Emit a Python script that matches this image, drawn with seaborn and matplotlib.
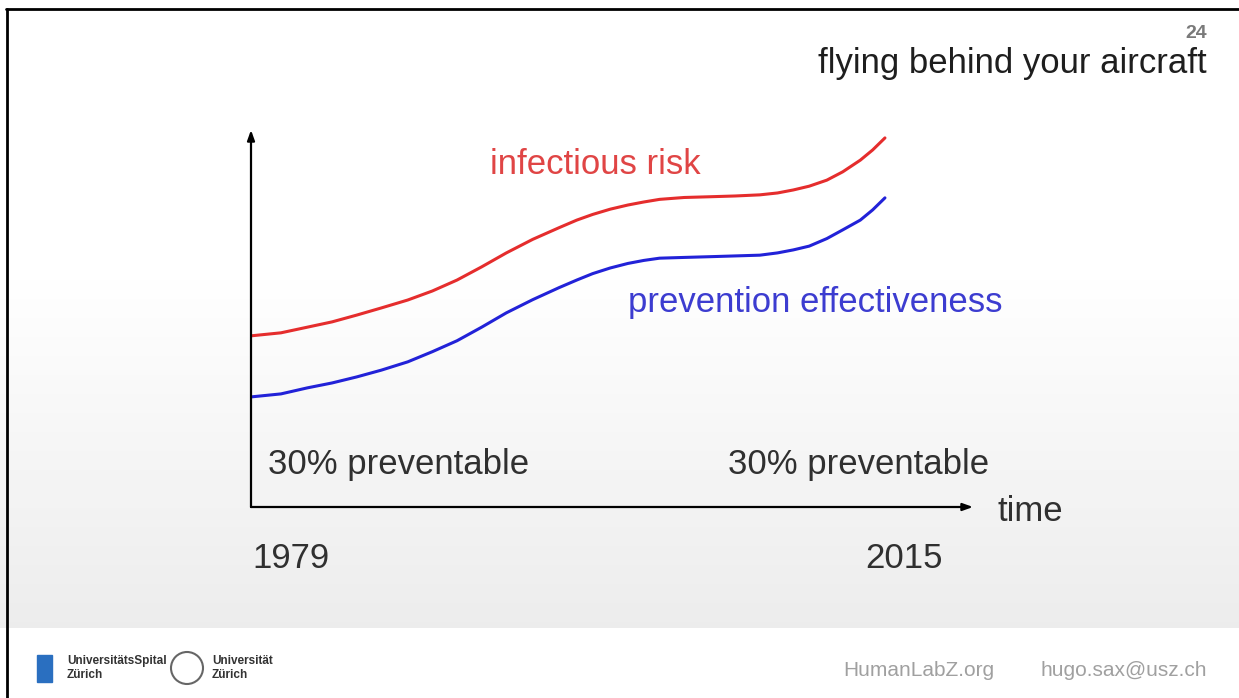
import numpy as np
import pandas as pd
import matplotlib.pyplot as plt
import seaborn as sns
from matplotlib.lines import Line2D
from matplotlib.patches import Rectangle, Ellipse

# data (years on x, arbitrary level 0-100 on y)
years = [1979.0, 1980.7, 1982.2, 1983.6, 1985.0, 1986.4, 1987.9, 1989.3,
         1990.7, 1992.1, 1993.5, 1995.0, 1996.5, 1997.5, 1998.4, 1999.4,
         2000.4, 2001.3, 2002.2, 2003.6, 2005.1, 2006.5, 2007.9, 2008.9,
         2009.8, 2010.7, 2011.7, 2012.6, 2013.6, 2014.3, 2015.0]
risk = [45.4, 46.2, 47.7, 49.1, 50.9, 52.8, 54.9, 57.3,
        60.2, 63.7, 67.4, 71.0, 74.1, 76.1, 77.6, 79.0,
        80.1, 80.9, 81.6, 82.1, 82.3, 82.5, 82.8, 83.3,
        84.1, 85.1, 86.7, 88.9, 92.0, 94.7, 97.9]
prevention = [29.2, 30.0, 31.6, 32.9, 34.5, 36.3, 38.5, 41.2,
              44.1, 47.7, 51.5, 55.0, 58.2, 60.2, 61.9, 63.4,
              64.6, 65.4, 66.0, 66.2, 66.4, 66.6, 66.8, 67.4,
              68.2, 69.2, 71.2, 73.5, 76.1, 78.8, 82.0]
series_names = ["infectious risk", "prevention effectiveness"]
year_labels = ["1979", "2015"]

df = pd.DataFrame({
    "year": years * 2,
    "level": risk + prevention,
    "series": [series_names[0]] * len(years) + [series_names[1]] * len(years),
})

sns.set_theme(style="white")
plt.rcParams["font.family"] = ["Liberation Sans", "DejaVu Sans"]

W, H = 1239, 698
fig = plt.figure(figsize=(W / 100, H / 100), dpi=100)

# slide background with soft grey gradient
bg = fig.add_axes([0, 0, 1, 1], zorder=0)
rows = np.arange(H)
shade = np.where(rows < 260, 1.0, 1.0 - 0.075 * np.clip((rows - 260) / 365, 0, 1))
shade[628:] = 1.0
bg.imshow(np.repeat(shade[:, None], 2, axis=1), cmap="gray", vmin=0, vmax=1,
          aspect="auto", extent=[0, 1, 0, 1])
bg.set_axis_off()

# slide frame (top and left edges)
fig.add_artist(Line2D([6 / W, 1], [1 - 9 / H, 1 - 9 / H], color="black", lw=2))
fig.add_artist(Line2D([7 / W, 7 / W], [0, 1 - 9 / H], color="black", lw=2))

# main chart
ax = fig.add_axes([251 / W, 1 - 507 / H, 722 / W, 377 / H], zorder=2)
ax.patch.set_alpha(0)
sns.lineplot(data=df, x="year", y="level", hue="series",
             palette={series_names[0]: "#e52d2d", series_names[1]: "#2222d8"},
             linewidth=2.2, legend=False, ax=ax, solid_joinstyle="round",
             solid_capstyle="round")
ax.set_xlim(1979, 2020.0)
ax.set_ylim(0, 100)
for s in ax.spines.values():
    s.set_visible(False)
ax.set_xticks([])
ax.set_yticks([])
ax.set_xlabel("")
ax.set_ylabel("")
arrow = dict(arrowstyle="-|>,head_length=0.5,head_width=0.18", color="black", lw=1.6,
             shrinkA=0, shrinkB=0)
ax.annotate("", xy=(1, 0), xytext=(0, 0), xycoords="axes fraction", arrowprops=arrow)
ax.annotate("", xy=(0, 1), xytext=(0, 0), xycoords="axes fraction", arrowprops=arrow)

fs = 25
ink = "#303030"
fig.text(268 / W, 1 - 474 / H, "30% preventable", fontsize=fs, color=ink, va="baseline")
fig.text(728 / W, 1 - 474 / H, "30% preventable", fontsize=fs, color=ink, va="baseline")
fig.text(490 / W, 1 - 174 / H, series_names[0], fontsize=fs, color="#e04545", va="baseline")
fig.text(628 / W, 1 - 312 / H, series_names[1], fontsize=fs, color="#3c3cd0", va="baseline")
fig.text(997 / W, 1 - 521 / H, "time", fontsize=fs, color=ink, va="baseline")
fig.text(252 / W, 1 - 568 / H, year_labels[0], fontsize=fs, color=ink, va="baseline")
fig.text(865 / W, 1 - 568 / H, year_labels[1], fontsize=fs, color=ink, va="baseline")
fig.text(1207 / W, 1 - 73 / H, "flying behind your aircraft", fontsize=fs,
         color="#1e1e1e", ha="right", va="baseline")
fig.text(1207 / W, 1 - 38 / H, "24", fontsize=14, fontweight="bold",
         color="#7a7a7a", ha="right", va="baseline")

# footer
fig.add_artist(Rectangle((37 / W, 1 - 682 / H), 15 / W, 27 / H, color="#2a6fc0"))
fig.text(67 / W, 1 - 664 / H, "UniversitätsSpital", fontsize=8.5, fontweight="bold",
         color="#333333", va="baseline")
fig.text(67 / W, 1 - 678 / H, "Zürich", fontsize=8.5, fontweight="bold",
         color="#333333", va="baseline")
fig.add_artist(Ellipse((187 / W, 1 - 668 / H), 32 / W, 32 / H, fill=False, ec="#666666",
                       lw=1.5, transform=fig.transFigure))
fig.text(212 / W, 1 - 664 / H, "Universität", fontsize=8.5, fontweight="bold",
         color="#333333", va="baseline")
fig.text(212 / W, 1 - 678 / H, "Zürich", fontsize=8.5, fontweight="bold",
         color="#333333", va="baseline")
fig.text(843 / W, 1 - 676 / H, "HumanLabZ.org", fontsize=15, color="#a0a0a0", va="baseline")
fig.text(1040 / W, 1 - 676 / H, "hugo.sax@usz.ch", fontsize=15, color="#a0a0a0", va="baseline")

fig.savefig("out.png", dpi=100)
